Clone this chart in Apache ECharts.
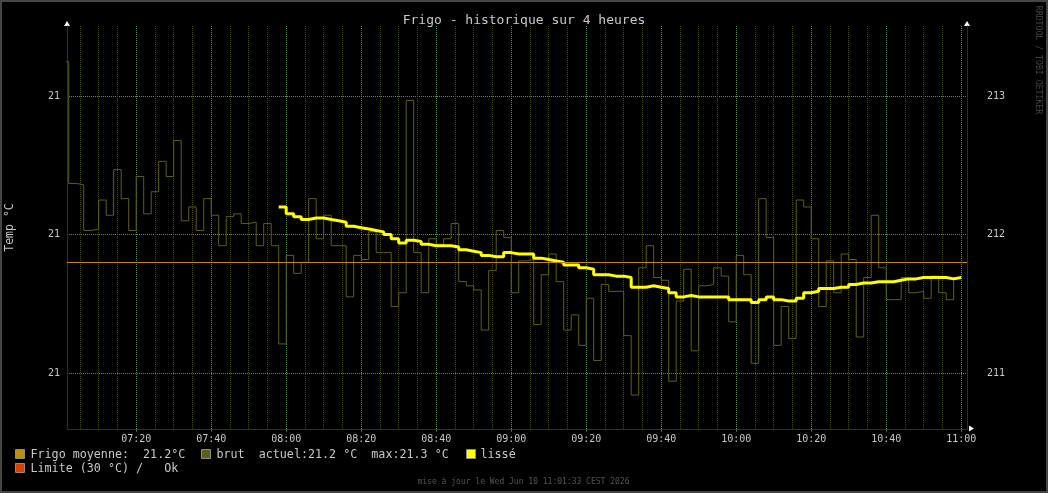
<!DOCTYPE html>
<html>
<head>
<meta charset="utf-8">
<title>Frigo - historique sur 4 heures</title>
<script src="https://cdn.jsdelivr.net/npm/echarts@6/dist/echarts.min.js"></script>
<style>
  html, body { margin: 0; padding: 0; background: #000; }
  #chart { width: 1048px; height: 493px; }
</style>
</head>
<body>
<div id="chart"></div>
<script>
// temps exprimés en minutes depuis minuit
const viewStart = 7 * 60 + 1.55   // 07:01:33
const viewEnd = 11 * 60 + 1.55    // 11:01:33
const stepMin = 2                 // un échantillon toutes les 2 minutes
const brutStart = 7 * 60          // 07:00
const lisseStart = 7 * 60 + 58    // 07:58

// température brute (°C)
const brut = [
  21.325, 21.237, 21.236, 21.203, 21.204, 21.225, 21.214, 21.247, 21.226, 21.203,
  21.242, 21.215, 21.231, 21.253, 21.242, 21.268, 21.210, 21.220, 21.203, 21.226,
  21.214, 21.192, 21.213, 21.215, 21.208, 21.209, 21.192, 21.208, 21.192, 21.121,
  21.185, 21.172, 21.180, 21.226, 21.197, 21.214, 21.192, 21.192, 21.155, 21.185,
  21.182, 21.202, 21.187, 21.187, 21.148, 21.158, 21.297, 21.187, 21.158, 21.197,
  21.193, 21.197, 21.208, 21.166, 21.163, 21.160, 21.131, 21.174, 21.203, 21.198,
  21.158, 21.181, 21.182, 21.135, 21.171, 21.186, 21.166, 21.131, 21.142, 21.120,
  21.154, 21.109, 21.164, 21.159, 21.159, 21.127, 21.084, 21.176, 21.192, 21.169,
  21.167, 21.094, 21.152, 21.175, 21.116, 21.163, 21.164, 21.176, 21.170, 21.137,
  21.185, 21.171, 21.107, 21.226, 21.198, 21.120, 21.148, 21.125, 21.225, 21.220,
  21.197, 21.148, 21.181, 21.158, 21.186, 21.182, 21.126, 21.169, 21.214, 21.176,
  21.153, 21.153, 21.169, 21.158, 21.159, 21.154, 21.170, 21.158, 21.153, 21.169
]

// moyenne glissante (°C)
const lisse = [
  21.220, 21.215, 21.213, 21.211, 21.212, 21.212, 21.211, 21.210, 21.209, 21.206,
  21.205, 21.204, 21.203, 21.202, 21.200, 21.197, 21.194, 21.196, 21.195, 21.193,
  21.192, 21.192, 21.192, 21.191, 21.189, 21.188, 21.187, 21.185, 21.184, 21.184,
  21.187, 21.186, 21.186, 21.186, 21.183, 21.182, 21.181, 21.180, 21.178, 21.178,
  21.176, 21.175, 21.171, 21.171, 21.170, 21.170, 21.169, 21.162, 21.162, 21.163,
  21.162, 21.161, 21.158, 21.155, 21.156, 21.155, 21.155, 21.155, 21.155, 21.155,
  21.153, 21.153, 21.153, 21.151, 21.153, 21.155, 21.153, 21.152, 21.152, 21.154,
  21.158, 21.159, 21.161, 21.161, 21.162, 21.162, 21.164, 21.165, 21.165, 21.166,
  21.166, 21.166, 21.167, 21.168, 21.168, 21.169, 21.169, 21.169, 21.169, 21.168, 21.169
]

const moyenne = 21.182
const limite = 30
const yMin = 21.0595
const yMax = 21.3508
const yTicks = [21.1, 21.2, 21.3]
const xTickLabels = ['07:20', '07:40', '08:00', '08:20', '08:40', '09:00',
  '09:20', '09:40', '10:00', '10:20', '10:40', '11:00']

const mono = '"DejaVu Sans Mono", monospace'
const textColor = '#c8c8c8'

const toMin = s => {
  const [h, m] = s.split(':').map(Number)
  return h * 60 + m
}
const fmtTime = m => String(Math.floor(m / 60)).padStart(2, '0') + ':' + String(Math.round(m % 60)).padStart(2, '0')

const majorX = xTickLabels.map(toMin)
const minorX = []
for (let m = 7 * 60 + 5; m <= 11 * 60; m += 5) {
  if (m % 20 !== 0) minorX.push(m)
}

// chaque valeur couvre son pas de 2 minutes (comme rrdtool)
function stepData(values, t0) {
  const d = values.map((v, i) => [t0 + i * stepMin, v])
  d.push([t0 + values.length * stepMin, values[values.length - 1]])
  return d
}

const actuel = brut[brut.length - 1]
const maxi = Math.max(...brut)

const chart = echarts.init(document.getElementById('chart'))
chart.setOption({
  backgroundColor: '#000',
  animation: false,
  title: {
    text: 'Frigo - historique sur 4 heures',
    left: 'center',
    top: 9,
    textStyle: { color: textColor, fontFamily: mono, fontSize: 13, fontWeight: 'normal' }
  },
  grid: { left: 67, right: 81, top: 26, bottom: 64, containLabel: false, outerBoundsMode: 'none' },
  xAxis: [
    {
      type: 'value',
      min: viewStart,
      max: viewEnd,
      axisLine: { show: true, lineStyle: { color: '#2e2e2e' } },
      axisTick: { show: true, customValues: majorX, length: 3, lineStyle: { color: '#555' } },
      axisLabel: {
        customValues: majorX,
        formatter: v => fmtTime(v),
        color: textColor, fontFamily: mono, fontSize: 10, margin: 5
      },
      splitLine: { show: true, lineStyle: { color: '#5a9264', type: [1, 1] } }
    },
    {
      type: 'value',
      min: viewStart,
      max: viewEnd,
      position: 'bottom',
      axisLine: { show: false },
      axisTick: { show: false, customValues: minorX },
      axisLabel: { show: false, customValues: minorX },
      splitLine: { show: true, lineStyle: { color: '#464610', type: [1, 1] } }
    }
  ],
  yAxis: [
    {
      type: 'value',
      min: yMin,
      max: yMax,
      position: 'left',
      name: 'Temp °C',
      nameLocation: 'middle',
      nameRotate: 90,
      nameGap: 51,
      nameTextStyle: { color: textColor, fontFamily: mono, fontSize: 11.5 },
      axisLine: { show: true, lineStyle: { color: '#2e2e2e' } },
      axisTick: { show: false, customValues: yTicks },
      axisLabel: {
        customValues: yTicks,
        formatter: v => v.toFixed(0),
        color: textColor, fontFamily: mono, fontSize: 10, margin: 7
      },
      splitLine: { show: true, lineStyle: { color: '#5a8a60', type: [1, 1] } }
    },
    {
      type: 'value',
      min: yMin * 10,
      max: yMax * 10,
      position: 'right',
      axisLine: { show: true, lineStyle: { color: '#2e2e2e' } },
      axisTick: { show: false, customValues: yTicks.map(v => v * 10) },
      axisLabel: {
        customValues: yTicks.map(v => v * 10),
        formatter: v => v.toFixed(0),
        color: textColor, fontFamily: mono, fontSize: 10, margin: 20
      },
      splitLine: { show: false }
    }
  ],
  series: [
    {
      name: 'brut',
      type: 'line',
      step: 'end',
      data: stepData(brut, brutStart),
      showSymbol: false,
      lineStyle: { color: '#5e5e18', width: 1 },
      z: 2,
      markLine: {
        silent: true,
        symbol: ['none', 'none'],
        label: { show: false },
        lineStyle: { color: '#c68b00', width: 1, type: 'solid' },
        data: [{ yAxis: moyenne }]
      }
    },
    {
      name: 'lissé',
      type: 'line',
      step: 'end',
      data: stepData(lisse, lisseStart),
      showSymbol: false,
      lineStyle: { color: '#ffff00', width: 3 },
      z: 4
    }
  ],
  graphic: [
    // cadre
    { type: 'rect', shape: { x: 1, y: 1, width: 1046, height: 491 }, style: { fill: null, stroke: '#454545', lineWidth: 2 } },
    // flèches des axes
    { type: 'polygon', shape: { points: [[64, 26], [70, 26], [67, 21]] }, style: { fill: '#fff' } },
    { type: 'polygon', shape: { points: [[964, 26], [970, 26], [967, 21]] }, style: { fill: '#fff' } },
    { type: 'polygon', shape: { points: [[969, 425.5], [969, 431.5], [974, 428.5]] }, style: { fill: '#fff' } },
    // légende
    { type: 'rect', shape: { x: 15.5, y: 449.5, width: 9, height: 9 }, style: { fill: '#b8900a', stroke: '#8c8c8c', lineWidth: 1 } },
    { type: 'text', style: { text: 'Frigo moyenne:  ' + moyenne.toFixed(1) + '°C', x: 30.5, y: 454.5, font: '11.7px ' + mono, fill: textColor, verticalAlign: 'middle' } },
    { type: 'rect', shape: { x: 201.5, y: 449.5, width: 9, height: 9 }, style: { fill: '#5e5e18', stroke: '#8c8c8c', lineWidth: 1 } },
    { type: 'text', style: { text: 'brut  actuel:' + actuel.toFixed(1) + ' °C  max:' + maxi.toFixed(1) + ' °C', x: 216.5, y: 454.5, font: '11.7px ' + mono, fill: textColor, verticalAlign: 'middle' } },
    { type: 'rect', shape: { x: 466.5, y: 449.5, width: 9, height: 9 }, style: { fill: '#ffff00', stroke: '#8c8c8c', lineWidth: 1 } },
    { type: 'text', style: { text: 'lissé', x: 480.5, y: 454.5, font: '11.7px ' + mono, fill: textColor, verticalAlign: 'middle' } },
    { type: 'rect', shape: { x: 15.5, y: 463.5, width: 9, height: 9 }, style: { fill: '#e03c00', stroke: '#8c8c8c', lineWidth: 1 } },
    { type: 'text', style: { text: 'Limite (' + limite + ' °C) /   Ok', x: 30.5, y: 468.5, font: '11.7px ' + mono, fill: textColor, verticalAlign: 'middle' } },
    // pied de page
    { type: 'text', style: { text: 'mise à jour le Wed Jun 10 11:01:33 CEST 2026', x: 523.5, y: 482, font: '8px ' + mono, fill: '#555', align: 'center', verticalAlign: 'middle' } },
    { type: 'text', x: 1038.5, y: 60, rotation: -Math.PI / 2, style: { text: 'RRDTOOL / TOBI OETIKER', x: 0, y: 0, font: '8.2px ' + mono, fill: '#444', align: 'center', verticalAlign: 'middle' } }
  ]
})
</script>
</body>
</html>
